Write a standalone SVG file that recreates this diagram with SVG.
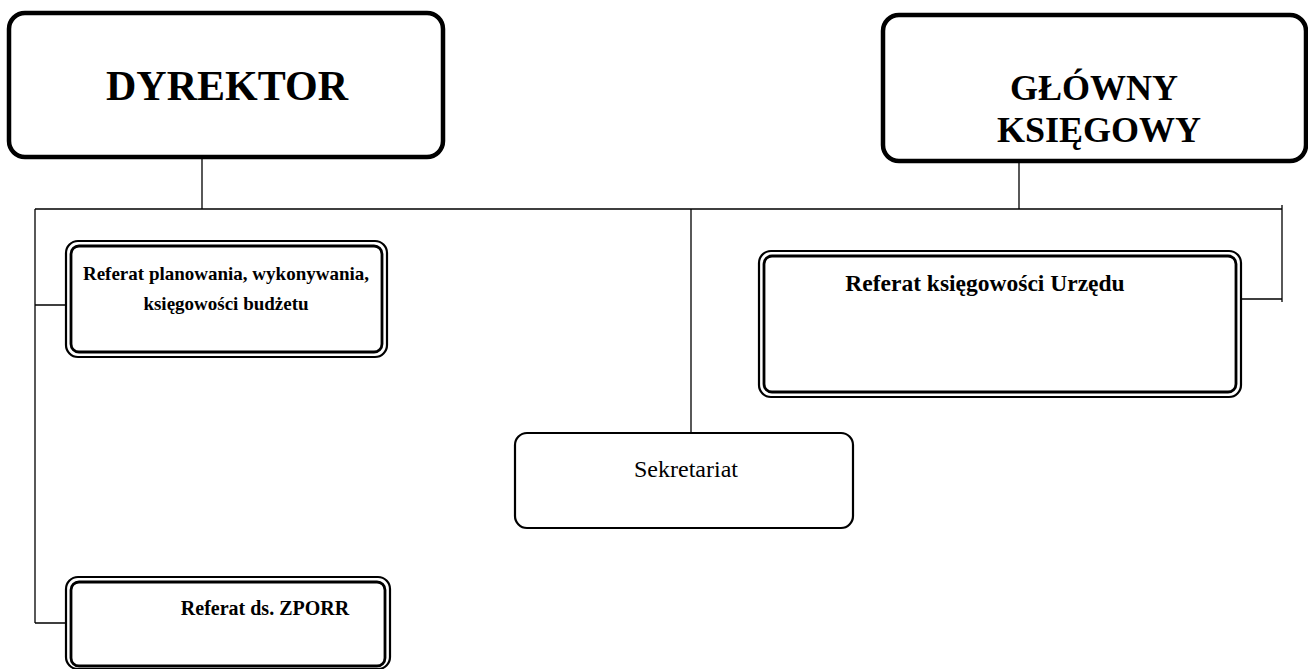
<svg xmlns="http://www.w3.org/2000/svg" width="1308" height="669" viewBox="0 0 1308 669">
<style>
.bg{fill:#fff}
.main{fill:#fff;stroke:#000;stroke-width:4.5}
.dbl-o{fill:#fff;stroke:#000;stroke-width:2.2}
.dbl-i{fill:none;stroke:#000;stroke-width:2.8}
.plain{fill:#fff;stroke:#000;stroke-width:2.2}
.conn{fill:none;stroke:#000;stroke-width:1.3}
text{font-family:"Liberation Serif","Times New Roman",serif;fill:#000;text-anchor:middle}
.big{font-size:42px;font-weight:bold}
.gk{font-size:36px;font-weight:bold}
.mid{font-size:19px;font-weight:bold}
.zp{font-size:20px;font-weight:bold}
.mid2{font-size:23.5px;font-weight:bold}
.reg{font-size:24px}
</style>
<rect class="bg" x="0" y="0" width="1308" height="669"/>
<g id="connectors">
<path class="conn" d="M202,157 V209 M1019,162 V209 M35,209 H1282 M35,209 V623 M35,305 H66 M35,623 H66 M691,209 V433 M1282,205 V302 M1241,299 H1282"/>
</g>
<g id="dyrektor">
<rect class="main" x="9" y="13" width="434" height="144" rx="16"/>
<text class="big" x="227" y="100">DYREKTOR</text>
</g>
<g id="glowny-ksiegowy">
<rect class="main" x="883" y="15" width="423" height="146" rx="16"/>
<text class="gk" x="1094" y="100">GŁÓWNY</text>
<text class="gk" x="1099" y="142">KSIĘGOWY</text>
</g>
<g id="referat-planowania">
<rect class="dbl-o" x="66" y="241" width="321" height="116" rx="12"/>
<rect class="dbl-i" x="71" y="246" width="311" height="106" rx="8"/>
<text class="mid" x="226" y="280">Referat planowania, wykonywania,</text>
<text class="mid" x="226" y="310">księgowości budżetu</text>
</g>
<g id="referat-ksiegowosci-urzedu">
<rect class="dbl-o" x="759" y="251" width="482" height="146" rx="12"/>
<rect class="dbl-i" x="764" y="256" width="472" height="136" rx="8"/>
<text class="mid2" x="985" y="291">Referat księgowości Urzędu</text>
</g>
<g id="sekretariat">
<rect class="plain" x="515" y="433" width="338" height="95" rx="12"/>
<text class="reg" x="686" y="477">Sekretariat</text>
</g>
<g id="referat-zporr">
<rect class="dbl-o" x="66" y="577" width="324" height="92" rx="12"/>
<rect class="dbl-i" x="71" y="582" width="314" height="84" rx="8"/>
<text class="zp" x="265" y="615">Referat ds. ZPORR</text>
</g>
</svg>
